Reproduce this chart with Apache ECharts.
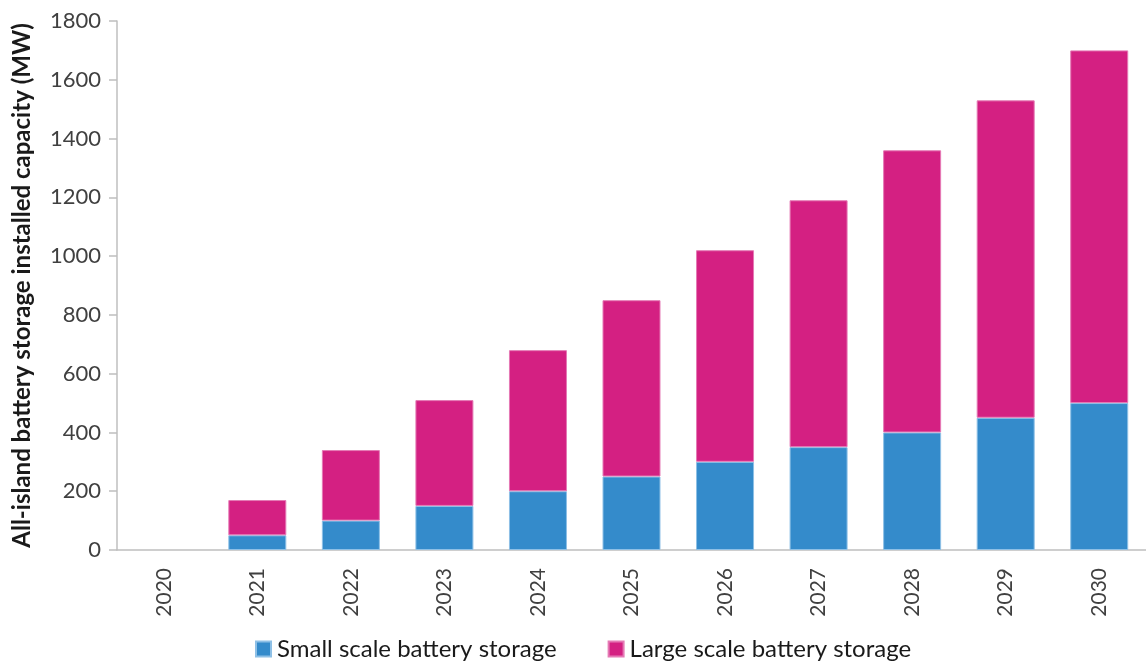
<!DOCTYPE html>
<html>
<head>
<meta charset="utf-8">
<script src="https://cdn.jsdelivr.net/npm/echarts@6/dist/echarts.min.js"></script>
<style>
  html, body { margin: 0; padding: 0; background: #fff; }
  #chart { width: 1146px; height: 661px; }
</style>
</head>
<body>
<div id="chart"></div>
<script>
// Installed battery storage capacity across the island, by year (MW)
const years = ['2020', '2021', '2022', '2023', '2024', '2025', '2026', '2027', '2028', '2029', '2030'];
const smallScale = [0, 50, 100, 150, 200, 250, 300, 350, 400, 450, 500];
const largeScale = [0, 120, 240, 360, 480, 600, 720, 840, 960, 1080, 1200];
const yTicks = { min: 0, max: 1800, interval: 200 };

const FONT = 'Lato, "Open Sans", sans-serif';
const TEXT = '#404040';
const AXIS = '#BFBFBF';

// zero-height segments are left empty so no outline is drawn for them
const asBars = (arr) => arr.map((v) => (v === 0 ? '-' : v));

const chart = echarts.init(document.getElementById('chart'));
chart.setOption({
  animation: false,
  grid: { left: 117, top: 21, width: 1032, height: 529, containLabel: false },
  legend: {
    bottom: -5,
    left: 250,
    itemWidth: 15,
    itemHeight: 15,
    itemGap: 51,
    icon: 'rect',
    textStyle: { fontFamily: FONT, fontSize: 24, color: '#1a1a1a', padding: [0, 0, 0, 1] },
    data: ['Small scale battery storage', 'Large scale battery storage']
  },
  xAxis: {
    type: 'category',
    data: years,
    axisLine: { lineStyle: { color: AXIS, width: 1.5 } },
    axisTick: { length: 8, lineStyle: { color: AXIS, width: 1.5 } },
    axisLabel: { rotate: 90, margin: 18, fontFamily: FONT, fontSize: 21, color: TEXT }
  },
  yAxis: {
    type: 'value',
    min: yTicks.min,
    max: yTicks.max,
    interval: yTicks.interval,
    name: 'All-island battery storage installed capacity (MW)',
    nameLocation: 'middle',
    nameGap: 83,
    nameTextStyle: { fontFamily: FONT, fontSize: 24, fontWeight: 'bold', color: '#1a1a1a' },
    axisLine: { show: true, lineStyle: { color: AXIS, width: 1.5 } },
    axisTick: { show: true, length: 8, lineStyle: { color: AXIS, width: 1.5 } },
    axisLabel: {
      margin: 16,
      fontFamily: FONT,
      fontSize: 22,
      color: TEXT,
      formatter: (v) => String(v)
    },
    splitLine: { show: false }
  },
  series: [
    {
      name: 'Small scale battery storage',
      type: 'bar',
      stack: 'total',
      data: asBars(smallScale),
      barWidth: '62%',
      itemStyle: { color: '#348BCB', borderColor: '#8EC0E6', borderWidth: 1 }
    },
    {
      name: 'Large scale battery storage',
      type: 'bar',
      stack: 'total',
      data: asBars(largeScale),
      barWidth: '62%',
      itemStyle: { color: '#D42082', borderColor: '#E57AB5', borderWidth: 1 }
    }
  ]
});
</script>
</body>
</html>
